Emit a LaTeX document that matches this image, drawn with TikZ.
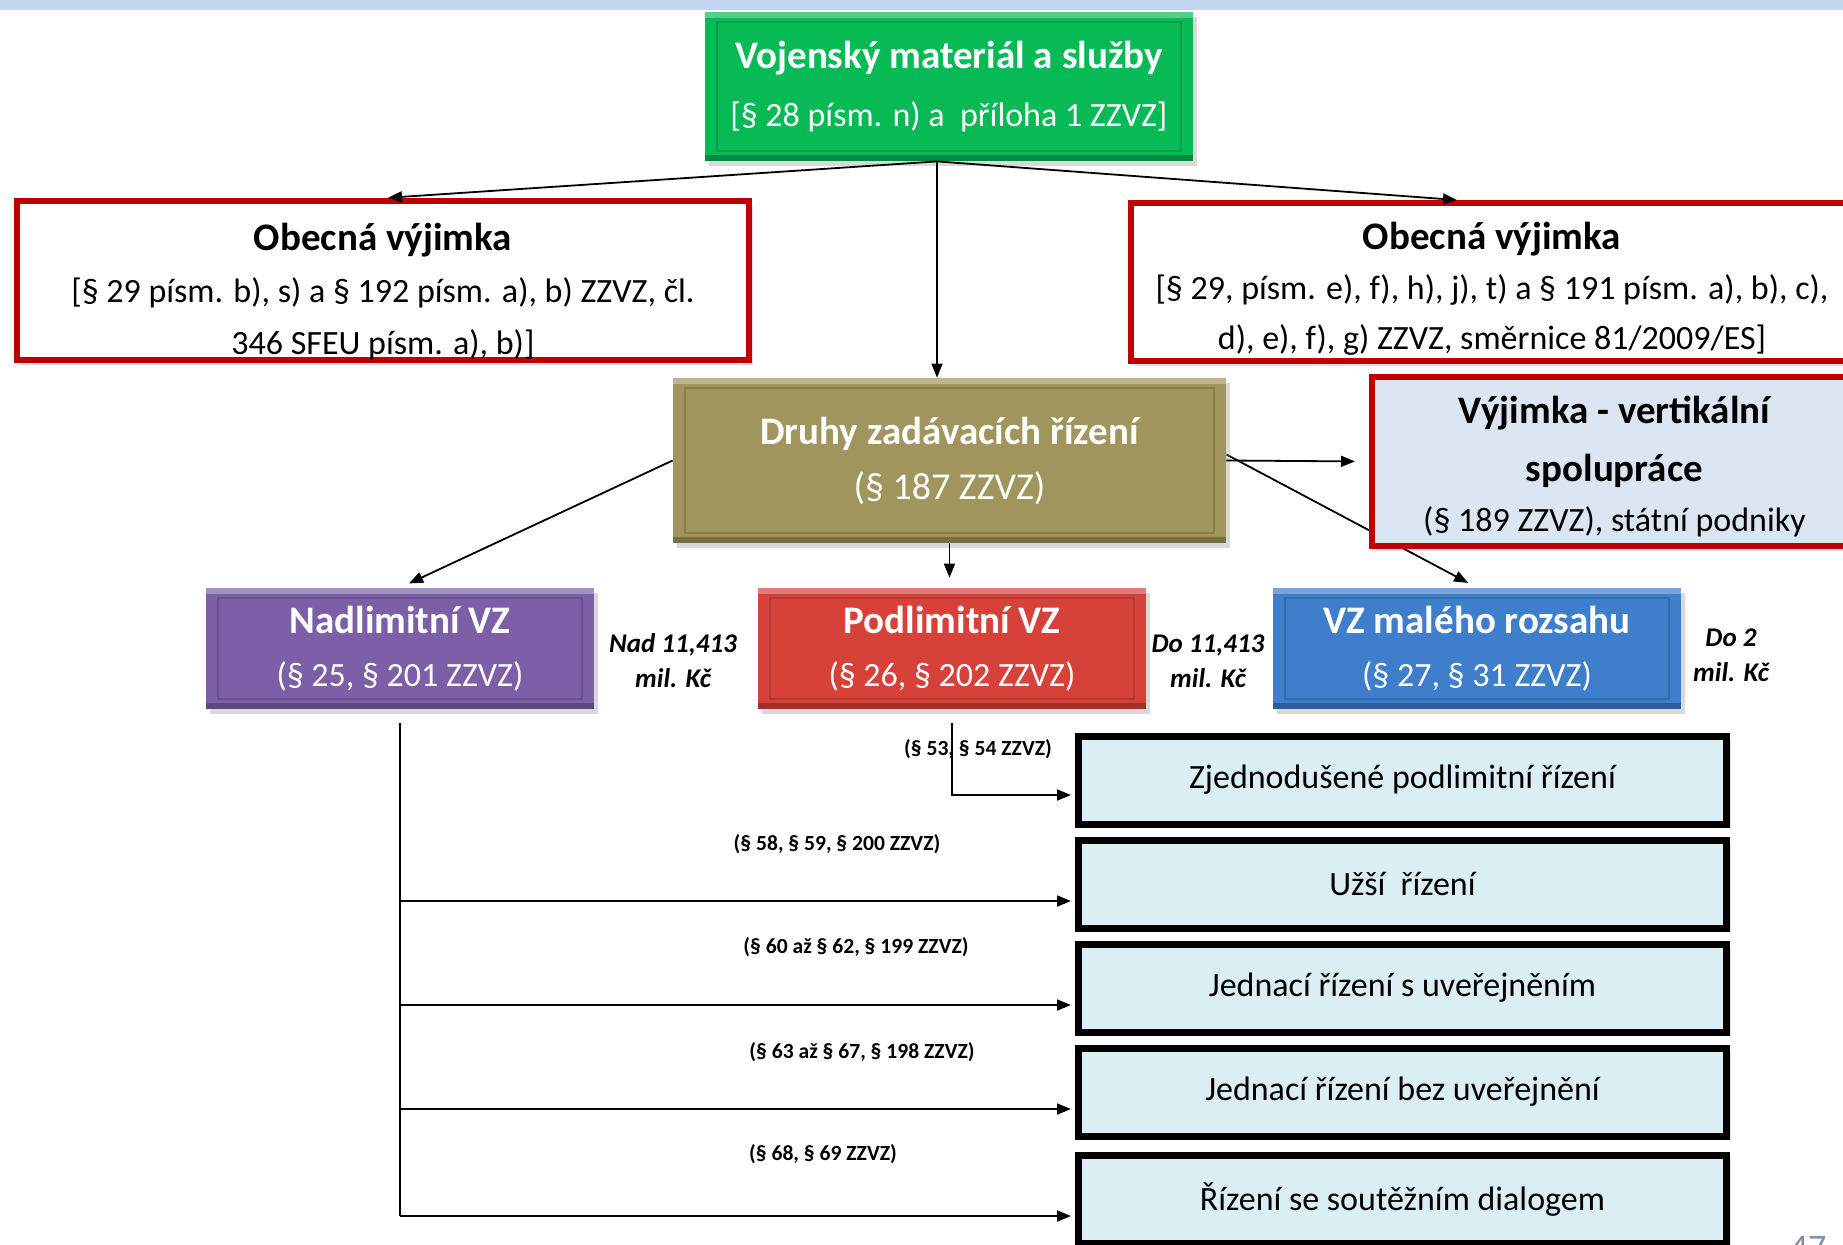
\documentclass[tikz,border=0pt]{standalone}
\usepackage{fontspec}
\setmainfont{Carlito}
\usetikzlibrary{arrows.meta,shadows,backgrounds}
\definecolor{vgreen}{RGB}{8,186,86}
\definecolor{volive}{RGB}{160,149,92}
\definecolor{vpurple}{RGB}{125,95,168}
\definecolor{vred}{RGB}{214,66,58}
\definecolor{vblue}{RGB}{62,126,202}
\definecolor{exframe}{RGB}{192,0,0}
\definecolor{vyjfill}{RGB}{220,230,242}
\definecolor{procfill}{RGB}{218,238,243}
\definecolor{stripe}{RGB}{196,214,240}
\definecolor{pgnumc}{RGB}{130,145,170}
\newcommand{\bigb}{\fontsize{19.5}{26}\selectfont\bfseries}
\tikzset{
  bevel/.style={rectangle, inner sep=0pt, text=white, align=center,
    font=\fontsize{17}{26.5}\selectfont,
    drop shadow={opacity=0.3,shadow xshift=2pt,shadow yshift=-2.5pt},
    path picture={
      \fill[white,opacity=0.3] (path picture bounding box.north west) rectangle ([yshift=-3pt]path picture bounding box.north east);
      \fill[black,opacity=0.25] (path picture bounding box.south west) rectangle ([yshift=3pt]path picture bounding box.south east);
      \draw[black,opacity=0.15,line width=1pt] ([shift={(6pt,-5pt)}]path picture bounding box.north west) rectangle ([shift={(-6pt,5pt)}]path picture bounding box.south east);}},
  exbox/.style={rectangle, draw=exframe, line width=3pt, fill=white, inner sep=0pt, align=center,
    font=\fontsize{17}{26}\selectfont, drop shadow={opacity=0.25,shadow xshift=2pt,shadow yshift=-2.5pt}},
  procbox/.style={rectangle, draw=black, line width=3.5pt, fill=procfill, minimum width=324pt, minimum height=44pt,
    font=\fontsize{17}{20}\selectfont, drop shadow={opacity=0.25,shadow xshift=2pt,shadow yshift=-2pt}},
  limit/.style={font=\fontsize{13.5}{17.5}\selectfont\bfseries\itshape, align=center, inner sep=0pt},
  law/.style={font=\fontsize{10.8}{12}\selectfont\bfseries, inner sep=0pt},
  arr/.style={-{Triangle[length=7pt,width=5.5pt]}, line width=0.9pt},
}
\begin{document}
\begin{tikzpicture}[x=0.5pt,y=-0.5pt]
\useasboundingbox (0,0) rectangle (1843,1244);
\fill[stripe] (0,0) rectangle (1843,10);
\node[bevel, fill=vgreen, minimum width=244pt, minimum height=74.5pt, font=\fontsize{17}{29}\selectfont] (mat) at (949,86.5)
  {{\bigb Vojenský materiál a služby}\\{}[§ 28 písm. n) a~ příloha 1 ZZVZ]};
\node[exbox, minimum width=366pt, minimum height=77.5pt] (genL) at (383,280.5)
  {\rule{0pt}{25pt}{\bigb Obecná výjimka}\\{}[§ 29 písm. b), s) a § 192 písm. a), b) ZZVZ, čl.\\346 SFEU písm. a), b)]};
\node[exbox, minimum width=361pt, minimum height=79pt, font=\fontsize{17}{25}\selectfont] (genR) at (1492,282)
  {\rule{0pt}{20.5pt}{\bigb Obecná výjimka}\\{}[§ 29, písm. e), f), h), j), t) a § 191 písm. a), b), c),\\d), e), f), g) ZZVZ, směrnice 81/2009/ES]};
\node[bevel, fill=volive, minimum width=276.5pt, minimum height=82.5pt, font=\fontsize{19}{27.5}\selectfont] (kinds) at (949.5,460.5)
  {{\bigb Druhy zadávacích řízení}\\(§ 187 ZZVZ)};
\node[exbox, fill=vyjfill, minimum width=242.5pt, minimum height=84.5pt, font=\fontsize{17}{25.3}\selectfont] (vert) at (1614.5,461.5)
  {\rule{0pt}{19pt}{\bigb Výjimka - vertikální}\\[3.5pt]{\bigb spolupráce}\\(§ 189 ZZVZ), státní podniky};
\node[bevel, fill=vpurple, minimum width=194pt, minimum height=60.5pt] (above) at (400,648.5) {{\bigb Nadlimitní VZ}\\(§ 25, § 201 ZZVZ)};
\node[bevel, fill=vred, minimum width=194pt, minimum height=60.5pt] (below) at (952,648.5) {{\bigb Podlimitní VZ}\\(§ 26, § 202 ZZVZ)};
\node[bevel, fill=vblue, minimum width=204pt, minimum height=60.5pt] (small) at (1477,648.5) {{\bigb VZ malého rozsahu}\\(§ 27, § 31 ZZVZ)};
\node[limit] (limA) at (673,661) {Nad 11,413\\mil. Kč};
\node[limit] (limB) at (1208,661) {Do 11,413\\mil. Kč};
\node[limit] (limC) at (1731,655.5) {Do 2\\mil. Kč};
\foreach \i/\y/\t in {1/780/Zjednodušené podlimitní řízení, 2/884/Užší~ řízení, 3/988/Jednací řízení s uveřejněním,
    4/1092/Jednací řízení bez uveřejnění, 5/1199/Řízení se soutěžním dialogem}
  \node[procbox] (proc\i) at (1402.5,\y) {\t};
\foreach \i/\x/\y/\t in {1/978/749/{(§ 53, § 54 ZZVZ)}, 2/837/844/{(§ 58, § 59, § 200 ZZVZ)}, 3/856/947/{(§ 60 až § 62, § 199 ZZVZ)},
    4/862/1052/{(§ 63 až § 67, § 198 ZZVZ)}, 5/823/1154/{(§ 68, § 69 ZZVZ)}}
  \node[law] (law\i) at (\x,\y) {\t};
\node[font=\fontsize{18}{18}\selectfont, text=pgnumc, anchor=north, inner sep=0pt] (pgnum) at (1808,1236) {47};
\coordinate (hub) at ([xshift=-6pt]mat.south);
\draw[arr] (hub) -- ([xshift=2.5pt]genL.north);
\draw[arr] (hub) -- ([xshift=-17.5pt]genR.north);
\draw[arr] (hub) -- (hub |- kinds.north);
\draw[arr, shorten >=5pt] (kinds.west) -- (above.north);
\draw[arr, shorten >=5pt] (kinds.south) -- (kinds.south |- below.north);
\draw[arr, shorten >=7pt] (kinds.east) -- (vert.west);
\begin{scope}[on background layer]
\draw[arr, shorten >=5pt] ([yshift=3pt]kinds.east) -- (small.north);
\end{scope}
\draw[arr, shorten >=2pt] ([yshift=-7pt]below.south) |- ([yshift=-7.5pt]proc1.west);
\foreach \i in {2,...,5} \coordinate (in\i) at ([yshift=-8.5pt]proc\i.west);
\draw[line width=1.1pt] ([yshift=-7pt]above.south) -- (above.south |- in5);
\foreach \i in {2,...,5} \draw[arr, shorten >=2pt] (above.south |- in\i) -- (in\i);
\end{tikzpicture}
\end{document}
